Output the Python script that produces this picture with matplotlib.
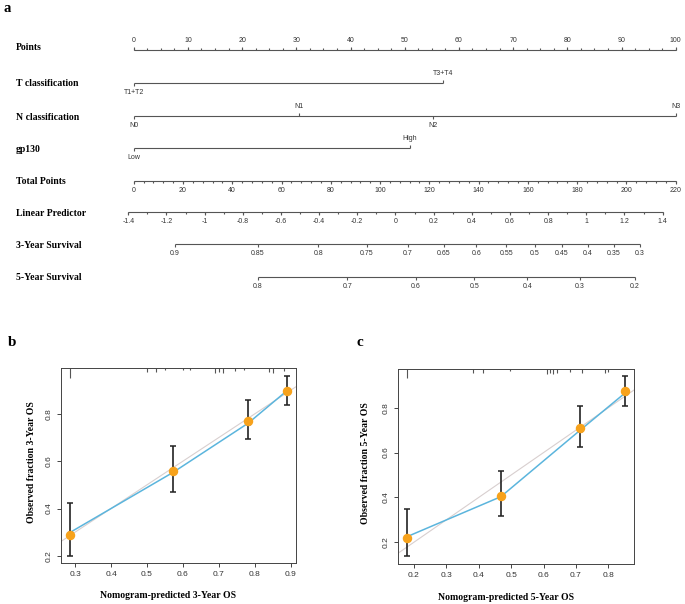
import numpy as np
import matplotlib
matplotlib.use("Agg")
import matplotlib.pyplot as plt
from matplotlib.transforms import blended_transform_factory

# ---------------- data ----------------
# Nomogram points
points_major = list(range(0, 101, 10))
t_levels = ["T1+T2", "T3+T4"]
t_points = [0, 57]
n_levels = ["N0", "N1", "N2", "N3"]
n_points = [0, 30.5, 55.3, 100]
gp_levels = ["Low", "High"]
gp_points = [0, 51]
total_points_major = list(range(0, 221, 20))
total_points_max = 220
lp_major = [-1.4, -1.2, -1, -0.8, -0.6, -0.4, -0.2, 0, 0.2, 0.4, 0.6, 0.8, 1, 1.2, 1.4]
lp_at_points0 = -1.3716
lp_per_point = 0.0284
surv3_ticks = [0.9, 0.85, 0.8, 0.75, 0.7, 0.65, 0.6, 0.55, 0.5, 0.45, 0.4, 0.35, 0.3]
surv5_ticks = [0.8, 0.7, 0.6, 0.5, 0.4, 0.3, 0.2]
base_surv3 = 0.7157
base_surv5 = 0.632

# Calibration 3-year
b_pred = [0.285, 0.573, 0.781, 0.888]
b_obs = [0.289, 0.560, 0.771, 0.896]
b_lo = [0.200, 0.471, 0.692, 0.838]
b_hi = [0.422, 0.665, 0.860, 0.961]
b_corr = [0.298, 0.553, 0.760, 0.896]
b_rug = [0.286, 0.499, 0.525, 0.55, 0.60, 0.62, 0.69, 0.70, 0.71, 0.744, 0.77, 0.84, 0.85, 0.88]
b_rug_len = [0.05, 0.02, 0.02, 0.012, 0.012, 0.012, 0.025, 0.02, 0.025, 0.015, 0.012, 0.02, 0.025, 0.015]

# Calibration 5-year
c_pred = [0.179, 0.468, 0.713, 0.850]
c_obs = [0.219, 0.408, 0.708, 0.873]
c_lo = [0.139, 0.319, 0.625, 0.806]
c_hi = [0.348, 0.518, 0.809, 0.943]
c_corr = [0.225, 0.403, 0.700, 0.864]
c_rug = [0.179, 0.383, 0.414, 0.496, 0.61, 0.62, 0.63, 0.64, 0.68, 0.717, 0.789, 0.80]
c_rug_len = [0.05, 0.02, 0.02, 0.012, 0.025, 0.02, 0.025, 0.02, 0.015, 0.02, 0.02, 0.015]

# ---------------- figure ----------------
W, H = 685, 604
fig = plt.figure(figsize=(W / 100, H / 100), dpi=100)

SERIF = "Liberation Serif"
SANS = "Liberation Sans"
LINE_C = "#555555"
TXT_C = "#333333"

# nomogram axes (top region); x in points, y in pixel rows
top_h = 300
ax = fig.add_axes([0, 1 - top_h / H, 1, top_h / H])
px0, px100 = 133.7, 675.7
ppu = (px100 - px0) / 100.0
ax.set_xlim(-px0 / ppu, (W - px0) / ppu)
ax.set_ylim(top_h, 0)
ax.axis("off")

rows = {"Points": 50, "T classification": 83, "N classification": 116, "gp130": 148,
        "Total Points": 181, "Linear Predictor": 212, "3-Year Survival": 244,
        "5-Year Survival": 277}
label_y = {"Points": 47, "T classification": 84, "N classification": 118, "gp130": 150,
           "Total Points": 182, "Linear Predictor": 214, "3-Year Survival": 246,
           "5-Year Survival": 278}
tr = blended_transform_factory(fig.transFigure, ax.transData)
for name, yy in label_y.items():
    ax.text(16 / W, yy, name, transform=tr, fontfamily=SERIF, fontweight="bold",
            fontsize=7.0, va="center", ha="left", color="black")

LW = 0.8
TICK_MAJ = 3.0
TICK_MIN = 2.0
OFF = 9.5
FS = 5.0


def axis_line(y, x0, x1):
    ax.plot([x0, x1], [y, y], color=LINE_C, lw=LW, solid_capstyle="butt")


def ticks(y, xs, length, up):
    sign = -1 if up else 1
    ax.vlines(xs, y, y + sign * length, color=LINE_C, lw=LW)


def labels(y, xs, texts, up):
    sign = -1 if up else 1
    for x, t in zip(xs, texts):
        ax.text(x, y + sign * OFF, t, fontfamily=SANS, fontsize=FS, ha="center",
                va="center", color=TXT_C)


def fmt(v):
    return ("%g" % v)


# Points
y = rows["Points"]
axis_line(y, 0, 100)
ticks(y, np.arange(0, 100.01, 2.5), TICK_MIN, True)
ticks(y, points_major, TICK_MAJ, True)
labels(y, points_major, [fmt(v) for v in points_major], True)

# categorical rows
def cat_row(y, pts, levs, ups):
    axis_line(y, min(pts), max(pts))
    for p, l, u in zip(pts, levs, ups):
        ticks(y, [p], TICK_MAJ, u)
        labels(y, [p], [l], u)

cat_row(rows["T classification"], t_points, t_levels, [False, True])
cat_row(rows["N classification"], n_points, n_levels, [False, True, False, True])
cat_row(rows["gp130"], gp_points, gp_levels, [False, True])

# Total points
scale_tp = 100.0 / total_points_max
y = rows["Total Points"]
axis_line(y, 0, 100)
ticks(y, np.arange(0, total_points_max + 0.01, 4) * scale_tp, TICK_MIN, False)
ticks(y, np.array(total_points_major) * scale_tp, TICK_MAJ, False)
labels(y, np.array(total_points_major) * scale_tp, [fmt(v) for v in total_points_major], False)

# Linear predictor
def lp_to_pts(lp):
    return (np.asarray(lp) - lp_at_points0) / lp_per_point

y = rows["Linear Predictor"]
axis_line(y, lp_to_pts(lp_major[0]), lp_to_pts(lp_major[-1]))
ticks(y, lp_to_pts(np.arange(-1.4, 1.401, 0.1)), TICK_MIN, False)
ticks(y, lp_to_pts(lp_major), TICK_MAJ, False)
labels(y, lp_to_pts(lp_major), [fmt(v) for v in lp_major], False)

# Survival
def surv_to_pts(s, s0):
    s = np.asarray(s, dtype=float)
    lp = np.log(np.log(s) / np.log(s0))
    return lp_to_pts(lp)

for key, tk, s0 in [("3-Year Survival", surv3_ticks, base_surv3),
                    ("5-Year Survival", surv5_ticks, base_surv5)]:
    y = rows[key]
    xs = surv_to_pts(tk, s0)
    axis_line(y, xs.min(), xs.max())
    ticks(y, xs, TICK_MAJ, False)
    labels(y, xs, [fmt(v) for v in tk], False)

# panel letters
fig.text(7.5 / W, 1 - 8.5 / H, "a", fontfamily=SERIF, fontweight="bold", fontsize=10.5,
         ha="center", va="center")
fig.text(12.5 / W, 1 - 343 / H, "b", fontfamily=SERIF, fontweight="bold", fontsize=11,
         ha="center", va="center")
fig.text(359.5 / W, 1 - 343 / H, "c", fontfamily=SERIF, fontweight="bold", fontsize=11,
         ha="center", va="center")


def calib(rect, xlim, ylim, xticks, yticks, pred, obs, lo, hi, corr, rug, rug_len,
          xlabel, ylabel, ylab_x):
    a = fig.add_axes(rect)
    a.set_xlim(*xlim)
    a.set_ylim(*ylim)
    # ideal line
    a.plot([0, 1], [0, 1], color="#d8cfcf", lw=0.8, zorder=1)
    # bias-corrected line
    a.plot(pred, corr, color="#5bb5dd", lw=1.1, zorder=2)
    a.plot(pred, corr, ls="none", marker="x", ms=2.5, mew=0.6, color="#3a4fb0", zorder=2)
    a.errorbar(pred, obs, yerr=[np.array(obs) - np.array(lo), np.array(hi) - np.array(obs)],
               fmt="none", ecolor="#222222", elinewidth=1.2, capsize=2.0, capthick=1.1,
               zorder=3)
    a.plot(pred, obs, ls="none", marker="o", ms=5.8, color="#f7a21b", mec="#f7a21b",
           zorder=4)
    # rug at top
    trr = blended_transform_factory(a.transData, a.transAxes)
    a.vlines(rug, [1 - l for l in rug_len], 1, transform=trr, color="#555555", lw=0.8)
    a.set_xticks(xticks)
    a.set_yticks(yticks)
    a.set_xticklabels([fmt(v) for v in xticks], fontfamily=SANS, fontsize=6, color="#333333")
    a.set_yticklabels([fmt(v) for v in yticks], fontfamily=SANS, fontsize=6, color="#333333",
                      rotation=90, va="center")
    a.tick_params(length=3, width=0.7, color="#444444", pad=3)
    for s in a.spines.values():
        s.set_color("#444444")
        s.set_linewidth(0.7)
    a.set_xlabel(xlabel, fontfamily=SERIF, fontweight="bold", fontsize=7)
    a.xaxis.set_label_coords(0.5 - 10 / (rect[2] * W), -33 / (rect[3] * H))
    a.xaxis.label.set_va("center")
    a.set_ylabel(ylabel, fontfamily=SERIF, fontweight="bold", fontsize=7)
    a.yaxis.set_label_coords(ylab_x, 0.5 + 3 / (rect[3] * H))
    a.yaxis.label.set_va("center")
    return a


calib([61 / W, 1 - 563 / H, 235 / W, 195 / H], (0.261, 0.914), (0.170, 0.993),
      [0.3, 0.4, 0.5, 0.6, 0.7, 0.8, 0.9], [0.2, 0.4, 0.6, 0.8],
      b_pred, b_obs, b_lo, b_hi, b_corr, b_rug, b_rug_len,
      "Nomogram-predicted 3-Year OS", "Observed fraction 3-Year OS", -(61 - 32) / 235)

calib([397.7 / W, 1 - 564 / H, 236 / W, 195.3 / H], (0.150, 0.878), (0.103, 0.974),
      [0.2, 0.3, 0.4, 0.5, 0.6, 0.7, 0.8], [0.2, 0.4, 0.6, 0.8],
      c_pred, c_obs, c_lo, c_hi, c_corr, c_rug, c_rug_len,
      "Nomogram-predicted 5-Year OS", "Observed fraction 5-Year OS", -(397.7 - 366) / 236)

fig.savefig("out.png", dpi=100)
